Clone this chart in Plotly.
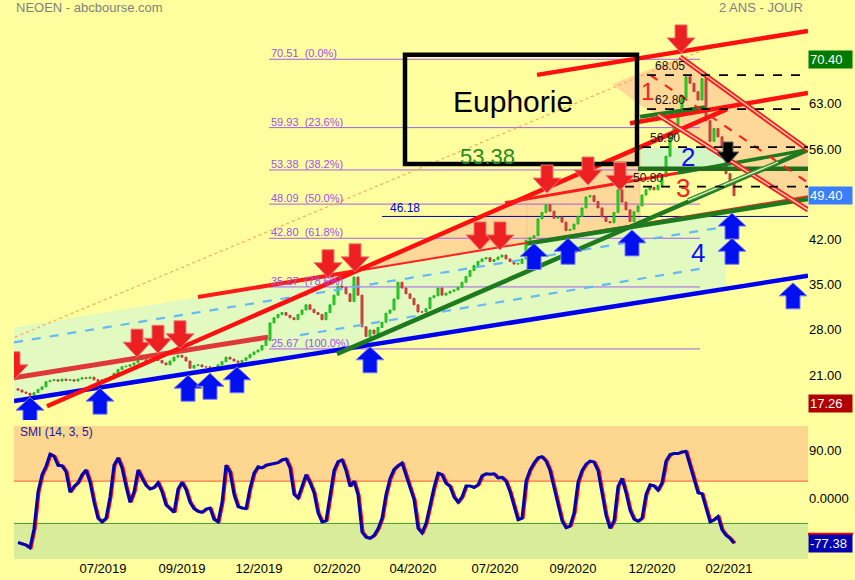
import plotly.graph_objects as go

# ------------------------------------------------------------------
# Data (one candle ~ every 3 sessions)
# ------------------------------------------------------------------
closes = [
    19.3, 19.0, 18.8, 18.5, 18.9, 19.4, 19.8, 20.6, 20.8, 20.9,
    20.7, 21.0, 20.8, 20.9, 20.7, 21.0, 21.2, 21.1, 21.3, 20.9,
    20.6, 20.9, 21.1, 21.3, 21.9, 22.5, 22.9, 23.0, 23.2, 23.5,
    24.3, 24.0, 23.6, 24.0, 24.3, 23.9, 23.5, 23.2, 23.8, 24.4,
    24.7, 24.4, 23.8, 22.7, 23.1, 23.2, 22.9, 22.9, 22.8, 22.6,
    23.2, 23.7, 24.4, 24.1, 23.8, 23.6, 23.9, 24.3, 24.8, 25.2,
    25.5, 26.2, 27.0, 29.7, 30.5, 31.0, 31.3, 30.9, 30.5, 30.2,
    31.0, 31.7, 32.5, 31.8, 31.3, 31.0, 30.2, 31.3, 32.5, 34.0,
    35.4, 35.2, 34.2, 33.0, 36.8, 34.0, 29.1, 27.6, 28.6, 28.0,
    29.0, 29.8, 31.2, 31.7, 33.4, 36.0, 35.1, 34.2, 33.5, 32.5,
    31.4, 31.4, 31.9, 33.6, 33.9, 35.1, 34.0, 34.3, 34.6, 34.8,
    35.2, 36.0, 36.9, 37.8, 38.6, 39.2, 39.6, 39.8, 39.2, 39.5,
    39.9, 40.2, 39.6, 39.2, 38.8, 38.9, 39.6, 42.5, 42.9, 43.2,
    45.8, 46.8, 48.0, 47.0, 45.9, 46.1, 45.3, 44.0, 44.2, 45.0,
    46.2, 47.5, 49.2, 49.4, 48.5, 47.5, 46.1, 45.4, 45.2, 46.8,
    50.3, 48.4, 47.2, 45.4, 46.9, 47.8, 49.5, 50.3, 50.7, 50.3,
    51.0, 52.3, 55.5, 58.5, 60.4, 62.0, 64.5, 67.8, 66.8, 65.5,
    64.2, 67.5, 61.0, 57.8, 59.8, 58.5, 57.0, 52.8, 51.5, 49.4,
]
first_open = 19.5

smi_values = [
    -76, -79, -81, -86, -50, 20, 52, 68, 91, 87,
    70, 69, 58, 19, 30, 37, 52, 61, 38, 0,
    -30, -37, -30, 10, 70, 84, 65, 30, 0, 20,
    61, 46, 32, 25, 28, 37, 20, -5, -12, -19,
    25, 38, 24, 0, -12, -17, -19, -13, -11, -32,
    -37, 0, 70, 57, 15, -8, -11, -12, 27, 55,
    67, 65, 70, 72, 74, 75, 80, 82, 65, 15,
    8, 30, 52, 37, 18, -20, -37, -35, 14, 60,
    77, 80, 60, 30, 40, 14, -56, -66, -68, -63,
    -50, -30, 15, 45, 62, 69, 74, 50, 25, 5,
    -49, -58, -40, -5, 28, 55, 52, 36, 30, 10,
    0, 10, 31, 31, 28, 33, 50, 54, 53, 54,
    46, 47, 40, 20, -5, -33, -30, 40, 61, 74,
    84, 86, 78, 60, 28, -5, -35, -48, -45, -20,
    38, 60, 72, 78, 76, 60, 19, -25, -49, -35,
    30, 45, 18, -15, -32, -36, -30, 15, 33, 31,
    23, 37, 78, 90, 92, 92, 95, 96, 70, 42,
    18, 16, -12, -37, -33, -27, -52, -62, -68, -77.38,
]

date_labels = ["07/2019", "09/2019", "12/2019", "02/2020", "04/2020",
               "07/2020", "09/2020", "12/2020", "02/2021"]
date_label_bars = [21.25, 41, 60.25, 79.75, 98.75, 119.25, 138.75, 158.5, 177.75]

fib_levels = [70.51, 59.93, 53.38, 48.09, 42.80, 35.27, 25.67]
fib_pcts = ["0.0%", "23.6%", "38.2%", "50.0%", "61.8%", "78.6%", "100.0%"]

pivot_levels = [68.05, 62.80, 56.90, 50.80]
pivot_start_bars = [157.25, 157.25, 156.0, 151.75]

price_ticks = [21, 28, 35, 42, 56, 63]
smi_ticks = [90, 0]
smi_tick_text = ["90.00", "0.0000"]

high_value = 70.40
last_value = 49.40
stop_value = 17.26
smi_last = -77.38
support_value = 46.18
euphorie_value = 53.38
smi_upper, smi_lower = 40, -40

# ------------------------------------------------------------------
n = len(closes)
bars = list(range(n))
opens = [first_open] + closes[:-1]
highs = [max(o, c) for o, c in zip(opens, closes)]
lows = [min(o, c) for o, c in zip(opens, closes)]

W, H = 855, 580
ML, MR, MT, MB = 14, 47, 18, 21
PW = W - ML - MR
PH = H - MT - MB
MAIN_PX = 402
SMI_PX = 133
X_RANGE = [-1, 197.5]
Y_RANGE = [14.67, 76.9]
SMI_RANGE = [-107.2, 144.2]
KPP = (X_RANGE[1] - X_RANGE[0]) / PW
VPP = (Y_RANGE[1] - Y_RANGE[0]) / MAIN_PX

FONT = "Liberation Sans, Arial, sans-serif"
BG = "#ffffa0"

shapes = []
annotations = []


def seg(x0, y0, x1, y1, color, width, dash=None, layer="above"):
    shapes.append(dict(type="line", xref="x", yref="y", x0=x0, y0=y0, x1=x1, y1=y1,
                       line=dict(color=color, width=width, dash=dash), layer=layer))


def poly(points, fill, layer="below"):
    path = "M " + " L ".join(f"{x},{y}" for x, y in points) + " Z"
    shapes.append(dict(type="path", xref="x", yref="y", path=path, fillcolor=fill,
                       line=dict(width=0), layer=layer))


def arrow(k, v, up, w, h, sw, hh, fill, edge):
    s = -1 if up else 1
    pts = [(0, 0), (-w / 2, hh), (-sw / 2, hh), (-sw / 2, h), (sw / 2, h), (sw / 2, hh), (w / 2, hh)]
    path = "M " + " L ".join(f"{k + px * KPP},{v + s * py * VPP}" for px, py in pts) + " Z"
    shapes.append(dict(type="path", xref="x", yref="y", path=path, fillcolor=fill,
                       line=dict(color=edge, width=1), layer="above"))


def text(x, y, t, size, color, xanchor="center", yanchor="middle", xref="x", yref="y", **kw):
    annotations.append(dict(x=x, y=y, xref=xref, yref=yref, text=t, showarrow=False,
                            xanchor=xanchor, yanchor=yanchor,
                            font=dict(family=FONT, size=size, color=color), **kw))


# ---- background fills ----
poly([(-1, 29.0), (177, 47.2), (177, 35.0), (-1, 17.6)], "#e2f9c0")           # channel
poly([(84.25, 37.7), (155.5, 56.9), (155.5, 45.0)], "#fed898")                 # wedge 3
poly([(148.5, 66.7), (166, 70.9), (197.5, 56.5), (197.5, 46.7), (160, 61.9),
      (155.5, 63.4)], "#fed898")                                               # channel 1
poly([(155, 56.8), (173, 56.8), (181, 53.7), (155, 53.7)], "#d2f6c4")         # zone 2
seg(127.25, 42.0, 127.25, 49.3, "#f3c789", 1, layer="below")
seg(155.5, 45.0, 155.5, 56.9, "#f3c789", 1, layer="below")

# ---- fibonacci retracement ----
for lvl, pct in zip(fib_levels, fib_pcts):
    seg(62.75, lvl, 170.5, lvl, "#a65ef0", 1, layer="below")
    text(62.75, lvl, f"{lvl:.2f}\u00a0 ({pct})", 11, "#a050ee", xanchor="left",
         yanchor="bottom", yshift=-2)

# support 46.18
seg(91, support_value, 197.5, support_value, "#0000aa", 1, layer="below")
text(92.5, support_value, f"{support_value:.2f}", 12, "#0000dd", xanchor="left",
     yanchor="bottom", yshift=-1)

# dotted orange long trend
seg(-0.75, 27.5, 174.25, 72.7, "#ffaa55", 1.2, dash="dot", layer="below")

# SMI bands
shapes.append(dict(type="rect", xref="paper", yref="y2", x0=0, x1=1, y0=smi_upper,
                   y1=SMI_RANGE[1], fillcolor="#fdd68f", line=dict(width=0), layer="below"))
shapes.append(dict(type="rect", xref="paper", yref="y2", x0=0, x1=1, y0=SMI_RANGE[0],
                   y1=smi_lower, fillcolor="#d9ec99", line=dict(width=0), layer="below"))
shapes.append(dict(type="line", xref="paper", yref="y2", x0=0, x1=1, y0=smi_upper,
                   y1=smi_upper, line=dict(color="#ff5a3c", width=1), layer="below"))
shapes.append(dict(type="line", xref="paper", yref="y2", x0=0, x1=1, y0=smi_lower,
                   y1=smi_lower, line=dict(color="#44a030", width=1), layer="below"))

# ---- trend lines (above candles) ----
seg(-1, 17.6, 197.5, 37.0, "#0000ee", 4.5)                      # blue support
seg(-1, 26.7, 176, 44.5, "#66b8f8", 2.2, dash="dash")           # dashed upper
seg(70.5, 27.8, 171.75, 38.2, "#66b8f8", 2.2, dash="dash")      # dashed lower
seg(-1, 21.2, 62.5, 27.5, "#e03838", 5)                         # early red channel
seg(45, 33.7, 84.25, 37.7, "#ff1a1a", 4)                        # red top
seg(84.25, 37.7, 197.5, 49.3, "#ff2020", 2)                     # thin red continuation
seg(7.25, 16.8, 177.25, 62.8, "#ff1010", 4.5)                   # big red diagonal
seg(129.75, 68.1, 197.5, 74.9, "#ff1010", 4.5)                  # top red
seg(153, 60.6, 197.5, 65.3, "#ff1010", 4.5)                     # mid red
seg(121.75, 48.3, 165, 52.9, "#ff1a1a", 3)                      # red line under 3
seg(165, 52.9, 197.5, 56.5, "#1e7a1e", 3.5)                     # its green part
seg(79.75, 24.9, 197.5, 56.5, "#1e7a1e", 4.5)                   # green rising
seg(127.25, 42.0, 197.5, 48.9, "#1e7a1e", 4.5)                  # green flat
seg(155, euphorie_value + 0.2, 197.5, euphorie_value + 0.2, "#1e6e1e", 4.5)
seg(155.5, 61.6, 171.75, 63.1, "#1e7a1e", 4)
# double red descending lines
for (a, b, c, d) in [(165.5, 70.9, 197.5, 56.5), (160, 61.9, 197.5, 47.2)]:
    seg(a, b, c, d, "#ff1a1a", 5)
    seg(a, b, c, d, "#ffe2c0", 1.3)
seg(158, 68.1, 197.5, 51.4, "#ff1a1a", 2, dash="dash")
# double green line
seg(167.5, 48.7, 190, 54.6, "#3c8c2c", 4)
seg(167.5, 48.7, 190, 54.6, "#dff5c8", 1.2)

# pivot dashed levels
for lvl, start in zip(pivot_levels, pivot_start_bars):
    seg(start, lvl, 197.5, lvl, "#000000", 1.8, dash="dash")
    text(start + 1.5, lvl, f"{lvl:.2f}", 12, "#111111", xanchor="left",
         yanchor="bottom", yshift=0)

# Euphorie box
shapes.append(dict(type="rect", xref="x", yref="y", x0=96.75, x1=154.75, y0=54.3, y1=71.2,
                   line=dict(color="black", width=4.5), fillcolor="rgba(0,0,0,0)",
                   layer="above"))
text(123.75, 64.0, "Euphorie", 30, "#000000")
text(117.25, 55.4, f"{euphorie_value:.2f}", 22, "#228b22")

# zone numbers
text(157.25, 65.6, "1", 24, "#ff2020")
text(167.5, 55.4, "2", 26, "#1010ee")
text(166.25, 50.6, "3", 26, "#ff2020")
text(170, 40.5, "4", 26, "#1010ee")

# arrows
red_down_tips = [(-1, 20.9), (29.75, 24.4), (35, 25.0), (40.5, 25.7), (77.5, 36.7),
                 (84.25, 37.6), (115.5, 41.0), (120.5, 41.0), (132.25, 49.8),
                 (142.5, 51.05), (150.5, 50.2), (165.75, 71.5)]
blue_up_tips = [(3, 18.2), (20.5, 19.6), (42.5, 21.6), (48, 21.9), (54.75, 22.9),
                (88, 26.0), (129, 42.0), (137.5, 42.8), (153.5, 44.1), (178.5, 46.7),
                (178.5, 42.8), (193.75, 35.9)]
for k, v in red_down_tips:
    arrow(k, v, False, 28, 28, 12, 15, "#ec2020", "#f07a7a")
for k, v in blue_up_tips:
    arrow(k, v, True, 28, 26, 14, 13, "#0010ee", "#7a7aff")
arrow(177.5, 54.3, False, 22, 22, 10, 12, "#000000", "#666666")

# ---- titles & value boxes ----
def ypx(py):
    return (H - MB - py) / PH


text(0, ypx(8), "NEOEN - abcbourse.com", 13, "#7f7f7f", xanchor="left", xref="paper",
     yref="paper")
text((805 - ML) / PW, ypx(8), "2 ANS - JOUR", 13, "#7f7f7f", xanchor="right",
     xref="paper", yref="paper")
text(4 / PW, ypx(432), "SMI (14, 3, 5)", 12, "#1a1aa0", xanchor="left", xref="paper",
     yref="paper")

for val, bg, ref in [(high_value, "#007a00", "y"), (last_value, "#3a7dff", "y"),
                     (stop_value, "#b00000", "y"), (smi_last, "#0000b0", "y2")]:
    annotations.append(dict(x=1.0, y=val, xref="paper", yref=ref, text=f"{val:.2f}",
                            showarrow=False, xanchor="left", yanchor="middle",
                            width=41, height=15, align="left", bgcolor=bg, borderpad=1,
                            font=dict(family=FONT, size=13, color="white")))
shapes.append(dict(type="rect", xref="paper", yref="y2", x0=1.0, x1=1.0 + 45 / PW,
                   y0=-57.5, y1=-62.5, fillcolor="#ff0000", line=dict(width=0)))

# ---- traces ----
fig = go.Figure()
fig.add_trace(go.Candlestick(
    x=bars, open=opens, high=highs, low=lows, close=closes,
    increasing=dict(line=dict(color="#1fb81f", width=1), fillcolor="#2ed82e"),
    decreasing=dict(line=dict(color="#c23c3c", width=1), fillcolor="#d04646"),
    whiskerwidth=0, showlegend=False, hoverinfo="skip", xaxis="x", yaxis="y"))
fig.add_trace(go.Scatter(x=[b + 0.4 for b in bars], y=smi_values, mode="lines",
                         line=dict(color="#ff0000", width=2), xaxis="x2", yaxis="y2",
                         showlegend=False, hoverinfo="skip"))
fig.add_trace(go.Scatter(x=bars, y=smi_values, mode="lines",
                         line=dict(color="#0000b4", width=3), xaxis="x2", yaxis="y2",
                         showlegend=False, hoverinfo="skip"))

main_lo = (PH - MAIN_PX) / PH
smi_hi = SMI_PX / PH
fig.update_layout(
    width=W, height=H,
    margin=dict(l=ML, r=MR, t=MT, b=MB, autoexpand=False),
    paper_bgcolor=BG, plot_bgcolor=BG,
    font=dict(family=FONT, size=13, color="black"),
    showlegend=False,
    xaxis=dict(domain=[0, 1], range=X_RANGE, anchor="y", showticklabels=False,
               showgrid=False, zeroline=False, showline=False, ticks="",
               automargin=False, rangeslider=dict(visible=False)),
    xaxis2=dict(domain=[0, 1], range=X_RANGE, anchor="y2", matches="x",
                tickvals=date_label_bars, ticktext=date_labels, showgrid=False,
                zeroline=False, showline=False, ticks="", automargin=False,
                tickfont=dict(family=FONT, size=13, color="black")),
    yaxis=dict(domain=[main_lo, 1], range=Y_RANGE, side="right", anchor="x",
               tickvals=price_ticks, ticktext=[f"{t:.2f}" for t in price_ticks],
               showgrid=False, zeroline=False, showline=False, ticks="",
               automargin=False, ticklabelshift=-4,
               tickfont=dict(family=FONT, size=13, color="black")),
    yaxis2=dict(domain=[0, smi_hi], range=SMI_RANGE, side="right", anchor="x2",
                tickvals=smi_ticks, ticktext=smi_tick_text, showgrid=False,
                zeroline=False, showline=False, ticks="", automargin=False,
                ticklabelshift=-4,
                tickfont=dict(family=FONT, size=13, color="black")),
    shapes=shapes,
    annotations=annotations,
)

fig.write_html(
    "out.html",
    config={"displayModeBar": False},
    post_script="document.body.style.margin='0';document.body.style.background='#ffffa0';",
)
